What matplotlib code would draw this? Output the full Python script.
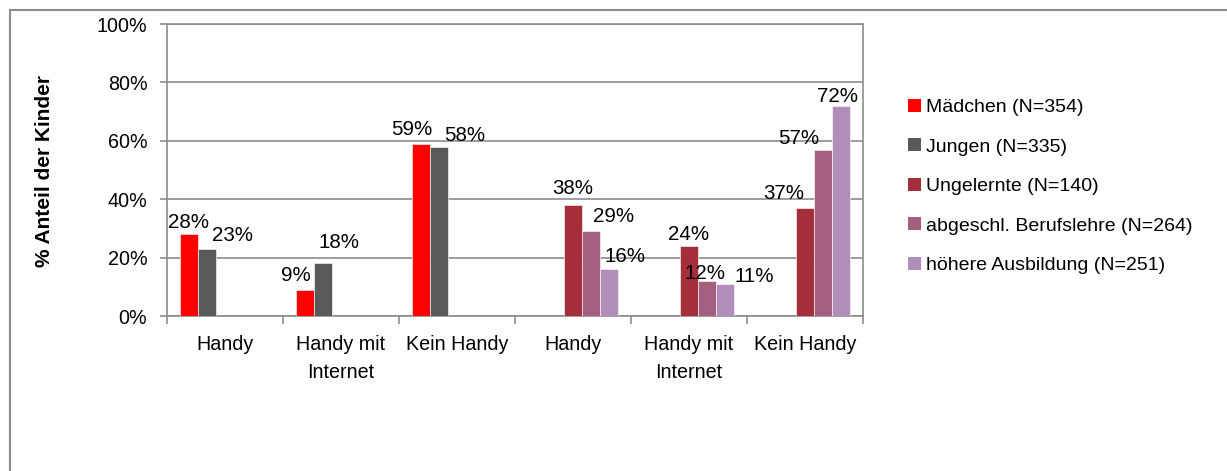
import matplotlib
matplotlib.use("Agg")
import matplotlib.pyplot as plt
from matplotlib.lines import Line2D
from matplotlib.patches import Patch
import numpy as np

plt.rcParams['font.family'] = ['Liberation Sans', 'DejaVu Sans']

categories = ["Handy", "Handy mit\nInternet", "Kein Handy",
              "Handy", "Handy mit\nInternet", "Kein Handy"]
series_names = ["Mädchen (N=354)", "Jungen (N=335)", "Ungelernte (N=140)",
                "abgeschl. Berufslehre (N=264)", "höhere Ausbildung (N=251)"]
maedchen = [28, 9, 59, None, None, None]
jungen = [23, 18, 58, None, None, None]
ungelernte = [None, None, None, 38, 24, 37]
berufslehre = [None, None, None, 29, 12, 57]
hoehere = [None, None, None, 16, 11, 72]
series_values = [maedchen, jungen, ungelernte, berufslehre, hoehere]
colors = ["#FF0000", "#595959", "#A42E3A", "#A35F7E", "#B18DBA"]

# label nudges in pixels (dx, dy above bar top) - styling only
label_dx = [[-1, -9, -9], [26, 16, 26], [0, 0, -21], [23, -2, -24], [16, 30, -3]]
label_dy = [[12, 14, 14], [13, 21, 11], [17, 11, 14], [15, 7, 11], [13, 7, 9]]

W, H, DPI = 1227, 471, 100
fig = plt.figure(figsize=(W / DPI, H / DPI), dpi=DPI)
ax = fig.add_axes([166.7 / W, 1 - 316 / H, (863 - 166.7) / W, (316 - 24) / H])

bw = 1 / 6.5
x = np.arange(len(categories))
px2pt = 72 / DPI
for k, (vals, col) in enumerate(zip(series_values, colors)):
    xs, ys = [], []
    for i, v in enumerate(vals):
        if v is not None:
            xs.append(x[i] + 0.5 + (k - 2) * bw)
            ys.append(v)
    ax.bar(xs, ys, width=bw, color=col, edgecolor="white", linewidth=0.4, zorder=3)
    for j, (xx, yy) in enumerate(zip(xs, ys)):
        ax.annotate(f"{yy}%", (xx, yy), xytext=(label_dx[k][j] * px2pt, label_dy[k][j] * px2pt),
                    textcoords="offset points", ha="center", va="center",
                    fontsize=14.8, color="black", zorder=5)

ax.set_xlim(0, len(categories))
ax.set_ylim(0, 100)
ax.set_yticks(np.arange(0, 101, 20))
ax.set_yticklabels([f"{t}%" for t in range(0, 101, 20)], fontsize=14.2)
ax.set_xticks(np.arange(0, len(categories) + 1))
ax.set_xticklabels([])
ax.set_xticks(x + 0.5, minor=True)
ax.set_xticklabels(categories, minor=True, fontsize=14.2, linespacing=1.55)
ax.tick_params(axis="x", which="major", length=6, width=1.2, color="#8c8c8c", direction="out")
ax.tick_params(axis="x", which="minor", length=0, pad=14)
ax.tick_params(axis="y", length=5, width=1.2, color="#8c8c8c", pad=9)
ax.grid(axis="y", color="#8c8c8c", linewidth=1.2, zorder=0)
for s in ax.spines.values():
    s.set_color("#8c8c8c")
    s.set_linewidth(1.2)
ax.set_axisbelow(True)

fig.text(45 / W, 1 - 171 / H, "% Anteil der Kinder", rotation=90, ha="center", va="center",
         fontsize=15, fontweight="bold")

handles = [Patch(facecolor=c, edgecolor="none") for c in colors]
fig.legend(handles, series_names, loc="upper left", bbox_to_anchor=(908 / W, 1 - 99 / H),
           frameon=False, fontsize=14, handlelength=0.65, handleheight=0.65,
           handletextpad=0.3, labelspacing=1.14, borderpad=0, borderaxespad=0)

# outer chart frame (left and top edges visible)
fig.add_artist(Line2D([10 / W, 10 / W], [0, 1 - 10 / H], transform=fig.transFigure,
                      color="#8c8c8c", linewidth=1.5))
fig.add_artist(Line2D([10 / W, 1], [1 - 10 / H, 1 - 10 / H], transform=fig.transFigure,
                      color="#8c8c8c", linewidth=1.5))

fig.savefig("out.png", dpi=DPI)
